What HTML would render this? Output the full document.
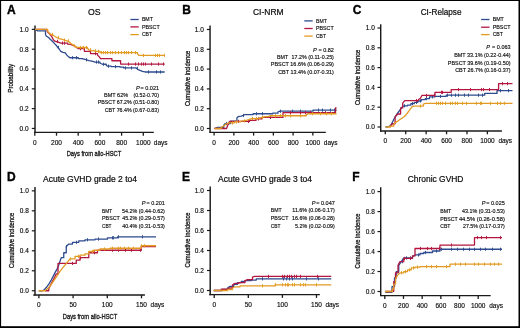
<!DOCTYPE html><html><head><meta charset="utf-8"><style>html,body{margin:0;padding:0;background:#fff}svg{display:block;will-change:transform}text{font-family:"Liberation Sans",sans-serif}</style></head><body><svg width="520" height="328" viewBox="0 0 520 328" font-family="Liberation Sans, sans-serif"><rect x="0" y="0" width="520" height="328" fill="#fff"/><text x="7.0" y="13.5" font-size="12" font-weight="bold" fill="#000" stroke="#000" stroke-width="0.35">A</text><text x="94.3" y="14.9" font-size="9.9" text-anchor="middle" textLength="12.6" lengthAdjust="spacingAndGlyphs" stroke="#1e1e1e" stroke-width="0.22">OS</text><line x1="130.4" y1="19.5" x2="138.7" y2="19.5" stroke="#2d4b8e" stroke-width="1.3"/><text x="141.9" y="21.4" font-size="5.6" textLength="11" lengthAdjust="spacingAndGlyphs" stroke="#1e1e1e" stroke-width="0.15">BMT</text><line x1="130.4" y1="26.9" x2="138.7" y2="26.9" stroke="#b3173f" stroke-width="1.3"/><text x="141.9" y="28.8" font-size="5.6" textLength="17.8" lengthAdjust="spacingAndGlyphs" stroke="#1e1e1e" stroke-width="0.15">PBSCT</text><line x1="130.4" y1="34.6" x2="138.7" y2="34.6" stroke="#e39a22" stroke-width="1.3"/><text x="141.9" y="36.4" font-size="5.6" textLength="10.2" lengthAdjust="spacingAndGlyphs" stroke="#1e1e1e" stroke-width="0.15">CBT</text><line x1="35" y1="25.4" x2="35" y2="133.0" stroke="#1a1a1a" stroke-width="1.45"/><line x1="34.2" y1="132.4" x2="153.8" y2="132.4" stroke="#1a1a1a" stroke-width="1.3"/><line x1="31.8" y1="29.4" x2="35" y2="29.4" stroke="#1a1a1a" stroke-width="1.2"/><text x="28.6" y="31.7" font-size="6.5" text-anchor="end" stroke="#1e1e1e" stroke-width="0.15">1.0</text><line x1="31.8" y1="49.209999999999994" x2="35" y2="49.209999999999994" stroke="#1a1a1a" stroke-width="1.2"/><text x="28.6" y="51.51" font-size="6.5" text-anchor="end" stroke="#1e1e1e" stroke-width="0.15">0.8</text><line x1="31.8" y1="69.01999999999998" x2="35" y2="69.01999999999998" stroke="#1a1a1a" stroke-width="1.2"/><text x="28.6" y="71.32" font-size="6.5" text-anchor="end" stroke="#1e1e1e" stroke-width="0.15">0.6</text><line x1="31.8" y1="88.82999999999998" x2="35" y2="88.82999999999998" stroke="#1a1a1a" stroke-width="1.2"/><text x="28.6" y="91.13" font-size="6.5" text-anchor="end" stroke="#1e1e1e" stroke-width="0.15">0.4</text><line x1="31.8" y1="108.63999999999999" x2="35" y2="108.63999999999999" stroke="#1a1a1a" stroke-width="1.2"/><text x="28.6" y="110.94" font-size="6.5" text-anchor="end" stroke="#1e1e1e" stroke-width="0.15">0.2</text><line x1="31.8" y1="128.45" x2="35" y2="128.45" stroke="#1a1a1a" stroke-width="1.2"/><text x="28.6" y="130.75" font-size="6.5" text-anchor="end" stroke="#1e1e1e" stroke-width="0.15">0.0</text><line x1="34.8" y1="132.4" x2="34.8" y2="135.70000000000002" stroke="#1a1a1a" stroke-width="1.3"/><text x="34.8" y="144.8" font-size="6.5" text-anchor="middle" stroke="#1e1e1e" stroke-width="0.15">0</text><line x1="56.5" y1="132.4" x2="56.5" y2="135.70000000000002" stroke="#1a1a1a" stroke-width="1.3"/><text x="56.5" y="144.8" font-size="6.5" text-anchor="middle" stroke="#1e1e1e" stroke-width="0.15">200</text><line x1="78.19999999999999" y1="132.4" x2="78.19999999999999" y2="135.70000000000002" stroke="#1a1a1a" stroke-width="1.3"/><text x="78.2" y="144.8" font-size="6.5" text-anchor="middle" stroke="#1e1e1e" stroke-width="0.15">400</text><line x1="99.89999999999999" y1="132.4" x2="99.89999999999999" y2="135.70000000000002" stroke="#1a1a1a" stroke-width="1.3"/><text x="99.9" y="144.8" font-size="6.5" text-anchor="middle" stroke="#1e1e1e" stroke-width="0.15">600</text><line x1="121.6" y1="132.4" x2="121.6" y2="135.70000000000002" stroke="#1a1a1a" stroke-width="1.3"/><text x="121.6" y="144.8" font-size="6.5" text-anchor="middle" stroke="#1e1e1e" stroke-width="0.15">800</text><line x1="143.3" y1="132.4" x2="143.3" y2="135.70000000000002" stroke="#1a1a1a" stroke-width="1.3"/><text x="143.3" y="144.8" font-size="6.5" text-anchor="middle" stroke="#1e1e1e" stroke-width="0.15">1000</text><text x="153.8" y="144.8" font-size="6.5" stroke="#1e1e1e" stroke-width="0.15">days</text><text x="93.95" y="155.9" font-size="8.1" text-anchor="middle" textLength="54.5" lengthAdjust="spacingAndGlyphs" stroke="#1e1e1e" stroke-width="0.32">Days from allo-HSCT</text><text x="13.5" y="78.3" font-size="7.9" text-anchor="middle" textLength="28.8" lengthAdjust="spacingAndGlyphs" transform="rotate(-90 13.5 78.3)" stroke="#1e1e1e" stroke-width="0.3">Probability</text><text x="159" y="89.5" font-size="5.6" text-anchor="end" textLength="18.5" lengthAdjust="spacingAndGlyphs" stroke="#1e1e1e" stroke-width="0.15">= 0.021</text><text x="136" y="89.5" font-size="5.6" font-style="italic" stroke="#1e1e1e" stroke-width="0.15">P</text><text x="104" y="96.7" font-size="5.6" textLength="24.2" lengthAdjust="spacingAndGlyphs" stroke="#1e1e1e" stroke-width="0.15">BMT 62%</text><text x="159" y="96.7" font-size="5.6" text-anchor="end" textLength="25.6" lengthAdjust="spacingAndGlyphs" stroke="#1e1e1e" stroke-width="0.15">(0.52-0.70)</text><text x="159" y="104.1" font-size="5.6" text-anchor="end" textLength="61.2" lengthAdjust="spacingAndGlyphs" stroke="#1e1e1e" stroke-width="0.15">PBSCT 67.2% (0.51-0.80)</text><text x="159" y="111.5" font-size="5.6" text-anchor="end" textLength="54.3" lengthAdjust="spacingAndGlyphs" stroke="#1e1e1e" stroke-width="0.15">CBT 76.4% (0.67-0.83)</text><path d="M35 29.4L37.8 30.91H45.5V34.42L46.2 35.93L48.5 37.54L50 39.04L51.6 40.55L53.1 42.06L54.6 43.66L56.1 45.17L57.7 47.48L59.2 48.99L60.7 51.3L63 52.4L65.3 52.81L66.8 55.12L68.4 56.62L69.9 57.73H78.3V58.53H82.9V58.93L85.9 59.74L89 60.54L92 61.24L95 62.05H100V63.25L102.5 64.26H106.25V65.16L107.5 66.17H111.25V66.67H120V67.07H123.75V67.93H136.25V68.28L138.1 69.58L140 70.44L142.5 71.44L145 71.99H164.7" fill="none" stroke="#2d4b8e" stroke-width="1.3" stroke-linejoin="round"/><line x1="58.5" y1="45.879999999999995" x2="58.5" y2="49.08" stroke="#2d4b8e" stroke-width="0.95"/><line x1="72.5" y1="56.129999999999995" x2="72.5" y2="59.33" stroke="#2d4b8e" stroke-width="0.95"/><line x1="76.5" y1="56.129999999999995" x2="76.5" y2="59.33" stroke="#2d4b8e" stroke-width="0.95"/><line x1="86.5" y1="58.14" x2="86.5" y2="61.34" stroke="#2d4b8e" stroke-width="0.95"/><line x1="96.5" y1="60.449999999999996" x2="96.5" y2="63.65" stroke="#2d4b8e" stroke-width="0.95"/><line x1="98.5" y1="60.449999999999996" x2="98.5" y2="63.65" stroke="#2d4b8e" stroke-width="0.95"/><line x1="103.5" y1="62.660000000000004" x2="103.5" y2="65.86" stroke="#2d4b8e" stroke-width="0.95"/><line x1="108.5" y1="64.57000000000001" x2="108.5" y2="67.77" stroke="#2d4b8e" stroke-width="0.95"/><line x1="115.5" y1="65.07000000000001" x2="115.5" y2="68.27" stroke="#2d4b8e" stroke-width="0.95"/><line x1="125.5" y1="66.33000000000001" x2="125.5" y2="69.53" stroke="#2d4b8e" stroke-width="0.95"/><line x1="131.5" y1="66.33000000000001" x2="131.5" y2="69.53" stroke="#2d4b8e" stroke-width="0.95"/><line x1="137.5" y1="66.68" x2="137.5" y2="69.88" stroke="#2d4b8e" stroke-width="0.95"/><line x1="148.5" y1="70.39" x2="148.5" y2="73.58999999999999" stroke="#2d4b8e" stroke-width="0.95"/><line x1="156.5" y1="70.39" x2="156.5" y2="73.58999999999999" stroke="#2d4b8e" stroke-width="0.95"/><line x1="160.5" y1="70.39" x2="160.5" y2="73.58999999999999" stroke="#2d4b8e" stroke-width="0.95"/><path d="M35 29.4H47V30.61L47.7 32.11L49.3 33.62L50.8 35.23L52.3 37.54L53.5 40.05L55.4 41.35L58.4 42.06L60.7 43.16H67.6V44.07L70.6 44.37L72.9 45.47L75.2 46.28L76.7 47.48L78.3 48.69H84.4V51.3H90.5V53.61H97.5V55.12L99.4 57.03L100.6 58.63H111.9V60.74H120.6V64.06H164.7" fill="none" stroke="#b3173f" stroke-width="1.3" stroke-linejoin="round"/><line x1="57.5" y1="39.75" x2="57.5" y2="42.95" stroke="#b3173f" stroke-width="0.95"/><line x1="62.5" y1="41.559999999999995" x2="62.5" y2="44.76" stroke="#b3173f" stroke-width="0.95"/><line x1="64.5" y1="41.559999999999995" x2="64.5" y2="44.76" stroke="#b3173f" stroke-width="0.95"/><line x1="80.5" y1="47.089999999999996" x2="80.5" y2="50.29" stroke="#b3173f" stroke-width="0.95"/><line x1="95.5" y1="52.01" x2="95.5" y2="55.21" stroke="#b3173f" stroke-width="0.95"/><line x1="128.5" y1="62.46" x2="128.5" y2="65.66" stroke="#b3173f" stroke-width="0.95"/><line x1="135.5" y1="62.46" x2="135.5" y2="65.66" stroke="#b3173f" stroke-width="0.95"/><line x1="138.5" y1="62.46" x2="138.5" y2="65.66" stroke="#b3173f" stroke-width="0.95"/><line x1="141.5" y1="62.46" x2="141.5" y2="65.66" stroke="#b3173f" stroke-width="0.95"/><line x1="143.5" y1="62.46" x2="143.5" y2="65.66" stroke="#b3173f" stroke-width="0.95"/><line x1="145.5" y1="62.46" x2="145.5" y2="65.66" stroke="#b3173f" stroke-width="0.95"/><line x1="151.5" y1="62.46" x2="151.5" y2="65.66" stroke="#b3173f" stroke-width="0.95"/><line x1="158.5" y1="62.46" x2="158.5" y2="65.66" stroke="#b3173f" stroke-width="0.95"/><line x1="163.5" y1="62.46" x2="163.5" y2="65.66" stroke="#b3173f" stroke-width="0.95"/><path d="M35 29.4H47.7V31.31L49.3 32.92L50.8 34.42L53.1 35.23L55.4 36.73L56.9 37.54L59.2 38.54L62.2 39.45L64.5 40.05L66.8 40.85L69.1 41.76L70.6 43.16L72.2 44.37L74.5 45.87L76.7 47.48H87.4V48.19L89 49.79L91.3 50.5L94.3 50.8L96.6 51.3H100V52.61H137.5V53.86L138.75 55.42H164.7" fill="none" stroke="#e39a22" stroke-width="1.3" stroke-linejoin="round"/><line x1="52.5" y1="32.82" x2="52.5" y2="36.02" stroke="#e39a22" stroke-width="0.95"/><line x1="58.5" y1="35.94" x2="58.5" y2="39.14" stroke="#e39a22" stroke-width="0.95"/><line x1="64.5" y1="38.449999999999996" x2="64.5" y2="41.65" stroke="#e39a22" stroke-width="0.95"/><line x1="68.5" y1="39.25" x2="68.5" y2="42.45" stroke="#e39a22" stroke-width="0.95"/><line x1="74.5" y1="44.269999999999996" x2="74.5" y2="47.47" stroke="#e39a22" stroke-width="0.95"/><line x1="80.5" y1="45.879999999999995" x2="80.5" y2="49.08" stroke="#e39a22" stroke-width="0.95"/><line x1="83.5" y1="45.879999999999995" x2="83.5" y2="49.08" stroke="#e39a22" stroke-width="0.95"/><line x1="86.5" y1="45.879999999999995" x2="86.5" y2="49.08" stroke="#e39a22" stroke-width="0.95"/><line x1="90.5" y1="48.19" x2="90.5" y2="51.39" stroke="#e39a22" stroke-width="0.95"/><line x1="95.5" y1="49.199999999999996" x2="95.5" y2="52.4" stroke="#e39a22" stroke-width="0.95"/><line x1="98.5" y1="49.699999999999996" x2="98.5" y2="52.9" stroke="#e39a22" stroke-width="0.95"/><line x1="101.5" y1="51.01" x2="101.5" y2="54.21" stroke="#e39a22" stroke-width="0.95"/><line x1="103.5" y1="51.01" x2="103.5" y2="54.21" stroke="#e39a22" stroke-width="0.95"/><line x1="105.5" y1="51.01" x2="105.5" y2="54.21" stroke="#e39a22" stroke-width="0.95"/><line x1="107.5" y1="51.01" x2="107.5" y2="54.21" stroke="#e39a22" stroke-width="0.95"/><line x1="110.5" y1="51.01" x2="110.5" y2="54.21" stroke="#e39a22" stroke-width="0.95"/><line x1="112.5" y1="51.01" x2="112.5" y2="54.21" stroke="#e39a22" stroke-width="0.95"/><line x1="115.5" y1="51.01" x2="115.5" y2="54.21" stroke="#e39a22" stroke-width="0.95"/><line x1="118.5" y1="51.01" x2="118.5" y2="54.21" stroke="#e39a22" stroke-width="0.95"/><line x1="121.5" y1="51.01" x2="121.5" y2="54.21" stroke="#e39a22" stroke-width="0.95"/><line x1="124.5" y1="51.01" x2="124.5" y2="54.21" stroke="#e39a22" stroke-width="0.95"/><line x1="126.5" y1="51.01" x2="126.5" y2="54.21" stroke="#e39a22" stroke-width="0.95"/><line x1="128.5" y1="51.01" x2="128.5" y2="54.21" stroke="#e39a22" stroke-width="0.95"/><line x1="131.5" y1="51.01" x2="131.5" y2="54.21" stroke="#e39a22" stroke-width="0.95"/><line x1="135.5" y1="51.01" x2="135.5" y2="54.21" stroke="#e39a22" stroke-width="0.95"/><line x1="143.5" y1="53.82" x2="143.5" y2="57.02" stroke="#e39a22" stroke-width="0.95"/><line x1="155.5" y1="53.82" x2="155.5" y2="57.02" stroke="#e39a22" stroke-width="0.95"/><line x1="157.5" y1="53.82" x2="157.5" y2="57.02" stroke="#e39a22" stroke-width="0.95"/><line x1="159.5" y1="53.82" x2="159.5" y2="57.02" stroke="#e39a22" stroke-width="0.95"/><line x1="164.5" y1="53.82" x2="164.5" y2="57.02" stroke="#e39a22" stroke-width="0.95"/><text x="182.2" y="13.7" font-size="12" font-weight="bold" fill="#000" stroke="#000" stroke-width="0.35">B</text><text x="268.3" y="14.8" font-size="8.6" text-anchor="middle" textLength="30.6" lengthAdjust="spacingAndGlyphs" stroke="#1e1e1e" stroke-width="0.22">CI-NRM</text><line x1="304.3" y1="20.9" x2="312.7" y2="20.9" stroke="#2d4b8e" stroke-width="1.3"/><text x="316" y="22.7" font-size="5.6" textLength="10.8" lengthAdjust="spacingAndGlyphs" stroke="#1e1e1e" stroke-width="0.15">BMT</text><line x1="304.3" y1="28.5" x2="312.7" y2="28.5" stroke="#b3173f" stroke-width="1.3"/><text x="316" y="30.2" font-size="5.6" textLength="17.7" lengthAdjust="spacingAndGlyphs" stroke="#1e1e1e" stroke-width="0.15">PBSCT</text><line x1="304.3" y1="36.1" x2="312.7" y2="36.1" stroke="#e39a22" stroke-width="1.3"/><text x="316" y="37.6" font-size="5.6" textLength="10" lengthAdjust="spacingAndGlyphs" stroke="#1e1e1e" stroke-width="0.15">CBT</text><line x1="210.05" y1="25.6" x2="210.05" y2="132.9" stroke="#1a1a1a" stroke-width="1.45"/><line x1="209.6" y1="132.3" x2="325.8" y2="132.3" stroke="#1a1a1a" stroke-width="1.3"/><line x1="206.85000000000002" y1="29.5" x2="210.05" y2="29.5" stroke="#1a1a1a" stroke-width="1.2"/><text x="203.8" y="31.8" font-size="6.5" text-anchor="end" stroke="#1e1e1e" stroke-width="0.15">1.0</text><line x1="206.85000000000002" y1="49.3" x2="210.05" y2="49.3" stroke="#1a1a1a" stroke-width="1.2"/><text x="203.8" y="51.6" font-size="6.5" text-anchor="end" stroke="#1e1e1e" stroke-width="0.15">0.8</text><line x1="206.85000000000002" y1="69.1" x2="210.05" y2="69.1" stroke="#1a1a1a" stroke-width="1.2"/><text x="203.8" y="71.4" font-size="6.5" text-anchor="end" stroke="#1e1e1e" stroke-width="0.15">0.6</text><line x1="206.85000000000002" y1="88.9" x2="210.05" y2="88.9" stroke="#1a1a1a" stroke-width="1.2"/><text x="203.8" y="91.2" font-size="6.5" text-anchor="end" stroke="#1e1e1e" stroke-width="0.15">0.4</text><line x1="206.85000000000002" y1="108.7" x2="210.05" y2="108.7" stroke="#1a1a1a" stroke-width="1.2"/><text x="203.8" y="111.0" font-size="6.5" text-anchor="end" stroke="#1e1e1e" stroke-width="0.15">0.2</text><line x1="206.85000000000002" y1="128.5" x2="210.05" y2="128.5" stroke="#1a1a1a" stroke-width="1.2"/><text x="203.8" y="130.8" font-size="6.5" text-anchor="end" stroke="#1e1e1e" stroke-width="0.15">0.0</text><line x1="214.1" y1="132.3" x2="214.1" y2="135.60000000000002" stroke="#1a1a1a" stroke-width="1.3"/><text x="214.1" y="144.70000000000002" font-size="6.5" text-anchor="middle" stroke="#1e1e1e" stroke-width="0.15">0</text><line x1="233.85" y1="132.3" x2="233.85" y2="135.60000000000002" stroke="#1a1a1a" stroke-width="1.3"/><text x="233.85" y="144.70000000000002" font-size="6.5" text-anchor="middle" stroke="#1e1e1e" stroke-width="0.15">200</text><line x1="253.6" y1="132.3" x2="253.6" y2="135.60000000000002" stroke="#1a1a1a" stroke-width="1.3"/><text x="253.6" y="144.70000000000002" font-size="6.5" text-anchor="middle" stroke="#1e1e1e" stroke-width="0.15">400</text><line x1="273.35" y1="132.3" x2="273.35" y2="135.60000000000002" stroke="#1a1a1a" stroke-width="1.3"/><text x="273.35" y="144.70000000000002" font-size="6.5" text-anchor="middle" stroke="#1e1e1e" stroke-width="0.15">600</text><line x1="293.1" y1="132.3" x2="293.1" y2="135.60000000000002" stroke="#1a1a1a" stroke-width="1.3"/><text x="293.1" y="144.70000000000002" font-size="6.5" text-anchor="middle" stroke="#1e1e1e" stroke-width="0.15">800</text><line x1="312.85" y1="132.3" x2="312.85" y2="135.60000000000002" stroke="#1a1a1a" stroke-width="1.3"/><text x="312.85" y="144.70000000000002" font-size="6.5" text-anchor="middle" stroke="#1e1e1e" stroke-width="0.15">1000</text><text x="323.8" y="144.70000000000002" font-size="6.5" stroke="#1e1e1e" stroke-width="0.15">days</text><text x="190.2" y="78.4" font-size="7.4" text-anchor="middle" textLength="55.4" lengthAdjust="spacingAndGlyphs" transform="rotate(-90 190.2 78.4)" stroke="#1e1e1e" stroke-width="0.3">Cumulative incidence</text><text x="333.9" y="51.6" font-size="5.6" text-anchor="end" textLength="15.5" lengthAdjust="spacingAndGlyphs" stroke="#1e1e1e" stroke-width="0.15">= 0.82</text><text x="313.1" y="51.6" font-size="5.6" font-style="italic" stroke="#1e1e1e" stroke-width="0.15">P</text><text x="277.1" y="59" font-size="5.6" textLength="11.1" lengthAdjust="spacingAndGlyphs" stroke="#1e1e1e" stroke-width="0.15">BMT</text><text x="333.9" y="59" font-size="5.6" text-anchor="end" textLength="42.3" lengthAdjust="spacingAndGlyphs" stroke="#1e1e1e" stroke-width="0.15">17.2% (0.11-0.25)</text><text x="333.9" y="66.4" font-size="5.6" text-anchor="end" textLength="63.1" lengthAdjust="spacingAndGlyphs" stroke="#1e1e1e" stroke-width="0.15">PBSCT 16.6% (0.06-0.29)</text><text x="333.9" y="74.1" font-size="5.6" text-anchor="end" textLength="55.7" lengthAdjust="spacingAndGlyphs" stroke="#1e1e1e" stroke-width="0.15">CBT 13.4% (0.07-0.31)</text><path d="M214.4 128.5L217.5 127.39H223.75V125.48L225 123.58H230.6V121.06H236.9V117.95L238.1 116.69L241.25 116.04L243.1 115.43L245 114.53H253.1V113.73H272.7V113.22H278V111.82L280.1 111.21H313V110.11H336.6" fill="none" stroke="#2d4b8e" stroke-width="1.3" stroke-linejoin="round"/><line x1="226.5" y1="121.98" x2="226.5" y2="125.17999999999999" stroke="#2d4b8e" stroke-width="0.95"/><line x1="243.5" y1="113.83000000000001" x2="243.5" y2="117.03" stroke="#2d4b8e" stroke-width="0.95"/><line x1="256.5" y1="112.13000000000001" x2="256.5" y2="115.33" stroke="#2d4b8e" stroke-width="0.95"/><line x1="262.5" y1="112.13000000000001" x2="262.5" y2="115.33" stroke="#2d4b8e" stroke-width="0.95"/><line x1="280.5" y1="109.61" x2="280.5" y2="112.80999999999999" stroke="#2d4b8e" stroke-width="0.95"/><line x1="292.5" y1="109.61" x2="292.5" y2="112.80999999999999" stroke="#2d4b8e" stroke-width="0.95"/><line x1="300.5" y1="109.61" x2="300.5" y2="112.80999999999999" stroke="#2d4b8e" stroke-width="0.95"/><line x1="318.5" y1="108.51" x2="318.5" y2="111.71" stroke="#2d4b8e" stroke-width="0.95"/><line x1="322.5" y1="108.51" x2="322.5" y2="111.71" stroke="#2d4b8e" stroke-width="0.95"/><line x1="330.5" y1="108.51" x2="330.5" y2="111.71" stroke="#2d4b8e" stroke-width="0.95"/><line x1="334.5" y1="108.51" x2="334.5" y2="111.71" stroke="#2d4b8e" stroke-width="0.95"/><path d="M214.4 128.5H226.5V128.5L227.5 125.99L228.5 123.47L229.5 121.46H249.5V120.46H256V118.95H262V117.44H283V112.62H335.5V107.9H336.6" fill="none" stroke="#b3173f" stroke-width="1.3" stroke-linejoin="round"/><line x1="238.5" y1="119.86" x2="238.5" y2="123.05999999999999" stroke="#b3173f" stroke-width="0.95"/><line x1="248.5" y1="119.86" x2="248.5" y2="123.05999999999999" stroke="#b3173f" stroke-width="0.95"/><line x1="258.5" y1="117.35000000000001" x2="258.5" y2="120.55" stroke="#b3173f" stroke-width="0.95"/><line x1="270.5" y1="115.84" x2="270.5" y2="119.03999999999999" stroke="#b3173f" stroke-width="0.95"/><line x1="290.5" y1="111.02000000000001" x2="290.5" y2="114.22" stroke="#b3173f" stroke-width="0.95"/><line x1="300.5" y1="111.02000000000001" x2="300.5" y2="114.22" stroke="#b3173f" stroke-width="0.95"/><line x1="305.5" y1="111.02000000000001" x2="305.5" y2="114.22" stroke="#b3173f" stroke-width="0.95"/><line x1="310.5" y1="111.02000000000001" x2="310.5" y2="114.22" stroke="#b3173f" stroke-width="0.95"/><line x1="325.5" y1="111.02000000000001" x2="325.5" y2="114.22" stroke="#b3173f" stroke-width="0.95"/><path d="M214.4 128.5H221.25V127.39L224.4 125.48L225.6 124.23L226.9 123.58L228.75 122.97H234.4V121.97H240.6V121.46L243.1 120.86L246.25 120.46L248.1 119.86L250 119.2L251.9 118.55H259.4V117.95L262.5 117.34L265 116.69H268.75V116.04L271.25 115.74H306.3V114.63L308.4 113.73H336.6" fill="none" stroke="#e39a22" stroke-width="1.3" stroke-linejoin="round"/><line x1="232.5" y1="121.37" x2="232.5" y2="124.57" stroke="#e39a22" stroke-width="0.95"/><line x1="236.5" y1="120.37" x2="236.5" y2="123.57" stroke="#e39a22" stroke-width="0.95"/><line x1="244.5" y1="119.26" x2="244.5" y2="122.46" stroke="#e39a22" stroke-width="0.95"/><line x1="252.5" y1="116.95" x2="252.5" y2="120.14999999999999" stroke="#e39a22" stroke-width="0.95"/><line x1="256.5" y1="116.95" x2="256.5" y2="120.14999999999999" stroke="#e39a22" stroke-width="0.95"/><line x1="262.5" y1="115.74000000000001" x2="262.5" y2="118.94" stroke="#e39a22" stroke-width="0.95"/><line x1="275.5" y1="114.14" x2="275.5" y2="117.33999999999999" stroke="#e39a22" stroke-width="0.95"/><line x1="280.5" y1="114.14" x2="280.5" y2="117.33999999999999" stroke="#e39a22" stroke-width="0.95"/><line x1="285.5" y1="114.14" x2="285.5" y2="117.33999999999999" stroke="#e39a22" stroke-width="0.95"/><line x1="290.5" y1="114.14" x2="290.5" y2="117.33999999999999" stroke="#e39a22" stroke-width="0.95"/><line x1="300.5" y1="114.14" x2="300.5" y2="117.33999999999999" stroke="#e39a22" stroke-width="0.95"/><line x1="312.5" y1="112.13000000000001" x2="312.5" y2="115.33" stroke="#e39a22" stroke-width="0.95"/><line x1="320.5" y1="112.13000000000001" x2="320.5" y2="115.33" stroke="#e39a22" stroke-width="0.95"/><line x1="326.5" y1="112.13000000000001" x2="326.5" y2="115.33" stroke="#e39a22" stroke-width="0.95"/><line x1="331.5" y1="112.13000000000001" x2="331.5" y2="115.33" stroke="#e39a22" stroke-width="0.95"/><text x="352.7" y="13.7" font-size="12" font-weight="bold" fill="#000" stroke="#000" stroke-width="0.35">C</text><text x="441.1" y="14.5" font-size="8.5" text-anchor="middle" textLength="40.8" lengthAdjust="spacingAndGlyphs" stroke="#1e1e1e" stroke-width="0.22">CI-Relapse</text><line x1="481.1" y1="19.5" x2="489.5" y2="19.5" stroke="#2d4b8e" stroke-width="1.3"/><text x="492.7" y="21.1" font-size="5.6" textLength="11.1" lengthAdjust="spacingAndGlyphs" stroke="#1e1e1e" stroke-width="0.15">BMT</text><line x1="481.1" y1="27.2" x2="489.5" y2="27.2" stroke="#b3173f" stroke-width="1.3"/><text x="492.7" y="28.6" font-size="5.6" textLength="17.9" lengthAdjust="spacingAndGlyphs" stroke="#1e1e1e" stroke-width="0.15">PBSCT</text><line x1="481.1" y1="34.6" x2="489.5" y2="34.6" stroke="#e39a22" stroke-width="1.3"/><text x="492.7" y="36" font-size="5.6" textLength="10.2" lengthAdjust="spacingAndGlyphs" stroke="#1e1e1e" stroke-width="0.15">CBT</text><line x1="380.7" y1="24.3" x2="380.7" y2="131.6" stroke="#1a1a1a" stroke-width="1.45"/><line x1="380" y1="131" x2="501.9" y2="131" stroke="#1a1a1a" stroke-width="1.3"/><line x1="377.5" y1="28.0" x2="380.7" y2="28.0" stroke="#1a1a1a" stroke-width="1.2"/><text x="374.8" y="30.3" font-size="6.5" text-anchor="end" stroke="#1e1e1e" stroke-width="0.15">1.0</text><line x1="377.5" y1="47.8" x2="380.7" y2="47.8" stroke="#1a1a1a" stroke-width="1.2"/><text x="374.8" y="50.1" font-size="6.5" text-anchor="end" stroke="#1e1e1e" stroke-width="0.15">0.8</text><line x1="377.5" y1="67.6" x2="380.7" y2="67.6" stroke="#1a1a1a" stroke-width="1.2"/><text x="374.8" y="69.9" font-size="6.5" text-anchor="end" stroke="#1e1e1e" stroke-width="0.15">0.6</text><line x1="377.5" y1="87.4" x2="380.7" y2="87.4" stroke="#1a1a1a" stroke-width="1.2"/><text x="374.8" y="89.7" font-size="6.5" text-anchor="end" stroke="#1e1e1e" stroke-width="0.15">0.4</text><line x1="377.5" y1="107.2" x2="380.7" y2="107.2" stroke="#1a1a1a" stroke-width="1.2"/><text x="374.8" y="109.5" font-size="6.5" text-anchor="end" stroke="#1e1e1e" stroke-width="0.15">0.2</text><line x1="377.5" y1="127.0" x2="380.7" y2="127.0" stroke="#1a1a1a" stroke-width="1.2"/><text x="374.8" y="129.3" font-size="6.5" text-anchor="end" stroke="#1e1e1e" stroke-width="0.15">0.0</text><line x1="385.3" y1="131" x2="385.3" y2="134.3" stroke="#1a1a1a" stroke-width="1.3"/><text x="385.3" y="143.4" font-size="6.5" text-anchor="middle" stroke="#1e1e1e" stroke-width="0.15">0</text><line x1="405.72" y1="131" x2="405.72" y2="134.3" stroke="#1a1a1a" stroke-width="1.3"/><text x="405.72" y="143.4" font-size="6.5" text-anchor="middle" stroke="#1e1e1e" stroke-width="0.15">200</text><line x1="426.14" y1="131" x2="426.14" y2="134.3" stroke="#1a1a1a" stroke-width="1.3"/><text x="426.14" y="143.4" font-size="6.5" text-anchor="middle" stroke="#1e1e1e" stroke-width="0.15">400</text><line x1="446.56" y1="131" x2="446.56" y2="134.3" stroke="#1a1a1a" stroke-width="1.3"/><text x="446.56" y="143.4" font-size="6.5" text-anchor="middle" stroke="#1e1e1e" stroke-width="0.15">600</text><line x1="466.98" y1="131" x2="466.98" y2="134.3" stroke="#1a1a1a" stroke-width="1.3"/><text x="466.98" y="143.4" font-size="6.5" text-anchor="middle" stroke="#1e1e1e" stroke-width="0.15">800</text><line x1="487.40000000000003" y1="131" x2="487.40000000000003" y2="134.3" stroke="#1a1a1a" stroke-width="1.3"/><text x="487.4" y="143.4" font-size="6.5" text-anchor="middle" stroke="#1e1e1e" stroke-width="0.15">1000</text><text x="498.4" y="143.4" font-size="6.5" stroke="#1e1e1e" stroke-width="0.15">days</text><text x="359.8" y="77.4" font-size="7.4" text-anchor="middle" textLength="55.4" lengthAdjust="spacingAndGlyphs" transform="rotate(-90 359.8 77.4)" stroke="#1e1e1e" stroke-width="0.3">Cumulative incidence</text><text x="510.6" y="49.3" font-size="5.6" text-anchor="end" textLength="18.5" lengthAdjust="spacingAndGlyphs" stroke="#1e1e1e" stroke-width="0.15">= 0.063</text><text x="486.3" y="49.3" font-size="5.6" font-style="italic" stroke="#1e1e1e" stroke-width="0.15">P</text><text x="510.6" y="56.9" font-size="5.6" text-anchor="end" textLength="56.4" lengthAdjust="spacingAndGlyphs" stroke="#1e1e1e" stroke-width="0.15">BMT 33.1% (0.22-0.44)</text><text x="510.6" y="64.5" font-size="5.6" text-anchor="end" textLength="62.8" lengthAdjust="spacingAndGlyphs" stroke="#1e1e1e" stroke-width="0.15">PBSCT 39.6% (0.19-0.50)</text><text x="510.6" y="72.2" font-size="5.6" text-anchor="end" textLength="55.4" lengthAdjust="spacingAndGlyphs" stroke="#1e1e1e" stroke-width="0.15">CBT 26.7% (0.16-0.37)</text><path d="M385.5 127.0L387.6 127.0L390.3 125.75L392.4 122.34L394.4 118.23L396.5 114.72L398.5 112.01L400.6 109.21L402 107.2L404 105.8H407.5V105.09H410.9V103.69H414.3V102.39H417.8V100.98H421.2V99.58H425.3V98.68H429.5V96.87H435V96.37H446.3V95.17H484.7V93.47H497V90.66H512.5" fill="none" stroke="#2d4b8e" stroke-width="1.3" stroke-linejoin="round"/><line x1="400.5" y1="110.41000000000001" x2="400.5" y2="113.61" stroke="#2d4b8e" stroke-width="0.95"/><line x1="404.5" y1="104.2" x2="404.5" y2="107.39999999999999" stroke="#2d4b8e" stroke-width="0.95"/><line x1="412.5" y1="102.09" x2="412.5" y2="105.28999999999999" stroke="#2d4b8e" stroke-width="0.95"/><line x1="416.5" y1="100.79" x2="416.5" y2="103.99" stroke="#2d4b8e" stroke-width="0.95"/><line x1="420.5" y1="99.38000000000001" x2="420.5" y2="102.58" stroke="#2d4b8e" stroke-width="0.95"/><line x1="426.5" y1="97.08000000000001" x2="426.5" y2="100.28" stroke="#2d4b8e" stroke-width="0.95"/><line x1="432.5" y1="95.27000000000001" x2="432.5" y2="98.47" stroke="#2d4b8e" stroke-width="0.95"/><line x1="440.5" y1="94.77000000000001" x2="440.5" y2="97.97" stroke="#2d4b8e" stroke-width="0.95"/><line x1="447.5" y1="93.57000000000001" x2="447.5" y2="96.77" stroke="#2d4b8e" stroke-width="0.95"/><line x1="451.5" y1="93.57000000000001" x2="451.5" y2="96.77" stroke="#2d4b8e" stroke-width="0.95"/><line x1="455.5" y1="93.57000000000001" x2="455.5" y2="96.77" stroke="#2d4b8e" stroke-width="0.95"/><line x1="458.5" y1="93.57000000000001" x2="458.5" y2="96.77" stroke="#2d4b8e" stroke-width="0.95"/><line x1="464.5" y1="93.57000000000001" x2="464.5" y2="96.77" stroke="#2d4b8e" stroke-width="0.95"/><line x1="468.5" y1="93.57000000000001" x2="468.5" y2="96.77" stroke="#2d4b8e" stroke-width="0.95"/><line x1="478.5" y1="93.57000000000001" x2="478.5" y2="96.77" stroke="#2d4b8e" stroke-width="0.95"/><line x1="482.5" y1="93.57000000000001" x2="482.5" y2="96.77" stroke="#2d4b8e" stroke-width="0.95"/><line x1="500.5" y1="89.06" x2="500.5" y2="92.25999999999999" stroke="#2d4b8e" stroke-width="0.95"/><line x1="508.5" y1="89.06" x2="508.5" y2="92.25999999999999" stroke="#2d4b8e" stroke-width="0.95"/><path d="M389.6 127.0L392.4 123.74H395.1V116.82L397.9 114.02H400.6V107.9H402.7V103.09L404.7 100.58H418.5V99.58L420.5 98.18L421.9 95.47H435V92.36H451.2V89.56H498.6V83.64H512.5" fill="none" stroke="#b3173f" stroke-width="1.3" stroke-linejoin="round"/><line x1="416.5" y1="98.98" x2="416.5" y2="102.17999999999999" stroke="#b3173f" stroke-width="0.95"/><line x1="426.5" y1="93.87" x2="426.5" y2="97.07" stroke="#b3173f" stroke-width="0.95"/><line x1="434.5" y1="93.87" x2="434.5" y2="97.07" stroke="#b3173f" stroke-width="0.95"/><line x1="441.5" y1="90.76" x2="441.5" y2="93.96" stroke="#b3173f" stroke-width="0.95"/><line x1="442.5" y1="90.76" x2="442.5" y2="93.96" stroke="#b3173f" stroke-width="0.95"/><line x1="458.5" y1="87.96000000000001" x2="458.5" y2="91.16" stroke="#b3173f" stroke-width="0.95"/><line x1="470.5" y1="87.96000000000001" x2="470.5" y2="91.16" stroke="#b3173f" stroke-width="0.95"/><line x1="481.5" y1="87.96000000000001" x2="481.5" y2="91.16" stroke="#b3173f" stroke-width="0.95"/><line x1="483.5" y1="87.96000000000001" x2="483.5" y2="91.16" stroke="#b3173f" stroke-width="0.95"/><line x1="489.5" y1="87.96000000000001" x2="489.5" y2="91.16" stroke="#b3173f" stroke-width="0.95"/><line x1="502.5" y1="82.04" x2="502.5" y2="85.24" stroke="#b3173f" stroke-width="0.95"/><line x1="507.5" y1="82.04" x2="507.5" y2="85.24" stroke="#b3173f" stroke-width="0.95"/><path d="M385.5 127.0H390.3V126.15H393.7V124.34L395.8 122.34L397.9 120.93L399.9 119.53L402 118.23L404 116.82L406.1 114.72L408.2 112.01L410.2 109.21L412.3 106.5L413.7 106.1H423.3V104.39L425.3 103.29H512.5" fill="none" stroke="#e39a22" stroke-width="1.3" stroke-linejoin="round"/><line x1="420.5" y1="104.5" x2="420.5" y2="107.69999999999999" stroke="#e39a22" stroke-width="0.95"/><line x1="436.5" y1="101.69000000000001" x2="436.5" y2="104.89" stroke="#e39a22" stroke-width="0.95"/><line x1="438.5" y1="101.69000000000001" x2="438.5" y2="104.89" stroke="#e39a22" stroke-width="0.95"/><line x1="440.5" y1="101.69000000000001" x2="440.5" y2="104.89" stroke="#e39a22" stroke-width="0.95"/><line x1="442.5" y1="101.69000000000001" x2="442.5" y2="104.89" stroke="#e39a22" stroke-width="0.95"/><line x1="445.5" y1="101.69000000000001" x2="445.5" y2="104.89" stroke="#e39a22" stroke-width="0.95"/><line x1="450.5" y1="101.69000000000001" x2="450.5" y2="104.89" stroke="#e39a22" stroke-width="0.95"/><line x1="452.5" y1="101.69000000000001" x2="452.5" y2="104.89" stroke="#e39a22" stroke-width="0.95"/><line x1="455.5" y1="101.69000000000001" x2="455.5" y2="104.89" stroke="#e39a22" stroke-width="0.95"/><line x1="457.5" y1="101.69000000000001" x2="457.5" y2="104.89" stroke="#e39a22" stroke-width="0.95"/><line x1="462.5" y1="101.69000000000001" x2="462.5" y2="104.89" stroke="#e39a22" stroke-width="0.95"/><line x1="466.5" y1="101.69000000000001" x2="466.5" y2="104.89" stroke="#e39a22" stroke-width="0.95"/><line x1="476.5" y1="101.69000000000001" x2="476.5" y2="104.89" stroke="#e39a22" stroke-width="0.95"/><line x1="480.5" y1="101.69000000000001" x2="480.5" y2="104.89" stroke="#e39a22" stroke-width="0.95"/><line x1="481.5" y1="101.69000000000001" x2="481.5" y2="104.89" stroke="#e39a22" stroke-width="0.95"/><line x1="490.5" y1="101.69000000000001" x2="490.5" y2="104.89" stroke="#e39a22" stroke-width="0.95"/><line x1="497.5" y1="101.69000000000001" x2="497.5" y2="104.89" stroke="#e39a22" stroke-width="0.95"/><line x1="500.5" y1="101.69000000000001" x2="500.5" y2="104.89" stroke="#e39a22" stroke-width="0.95"/><line x1="504.5" y1="101.69000000000001" x2="504.5" y2="104.89" stroke="#e39a22" stroke-width="0.95"/><text x="6.9" y="180.5" font-size="12" font-weight="bold" fill="#000" stroke="#000" stroke-width="0.35">D</text><text x="90" y="181.6" font-size="8.5" text-anchor="middle" textLength="94" lengthAdjust="spacingAndGlyphs" stroke="#1e1e1e" stroke-width="0.22">Acute GVHD grade 2 to4</text><line x1="35" y1="187" x2="35" y2="295.6" stroke="#1a1a1a" stroke-width="1.45"/><line x1="33.3" y1="295" x2="144.9" y2="295" stroke="#1a1a1a" stroke-width="1.3"/><line x1="31.8" y1="190.85" x2="35" y2="190.85" stroke="#1a1a1a" stroke-width="1.2"/><text x="28.8" y="193.15" font-size="6.5" text-anchor="end" stroke="#1e1e1e" stroke-width="0.15">1.0</text><line x1="31.8" y1="210.82999999999998" x2="35" y2="210.82999999999998" stroke="#1a1a1a" stroke-width="1.2"/><text x="28.8" y="213.13" font-size="6.5" text-anchor="end" stroke="#1e1e1e" stroke-width="0.15">0.8</text><line x1="31.8" y1="230.81" x2="35" y2="230.81" stroke="#1a1a1a" stroke-width="1.2"/><text x="28.8" y="233.11" font-size="6.5" text-anchor="end" stroke="#1e1e1e" stroke-width="0.15">0.6</text><line x1="31.8" y1="250.79000000000002" x2="35" y2="250.79000000000002" stroke="#1a1a1a" stroke-width="1.2"/><text x="28.8" y="253.09" font-size="6.5" text-anchor="end" stroke="#1e1e1e" stroke-width="0.15">0.4</text><line x1="31.8" y1="270.77" x2="35" y2="270.77" stroke="#1a1a1a" stroke-width="1.2"/><text x="28.8" y="273.07" font-size="6.5" text-anchor="end" stroke="#1e1e1e" stroke-width="0.15">0.2</text><line x1="31.8" y1="290.75" x2="35" y2="290.75" stroke="#1a1a1a" stroke-width="1.2"/><text x="28.8" y="293.05" font-size="6.5" text-anchor="end" stroke="#1e1e1e" stroke-width="0.15">0.0</text><line x1="38.9" y1="295" x2="38.9" y2="298.3" stroke="#1a1a1a" stroke-width="1.3"/><text x="38.9" y="307.09999999999997" font-size="6.5" text-anchor="middle" stroke="#1e1e1e" stroke-width="0.15">0</text><line x1="73.1" y1="295" x2="73.1" y2="298.3" stroke="#1a1a1a" stroke-width="1.3"/><text x="73.1" y="307.09999999999997" font-size="6.5" text-anchor="middle" stroke="#1e1e1e" stroke-width="0.15">50</text><line x1="107.30000000000001" y1="295" x2="107.30000000000001" y2="298.3" stroke="#1a1a1a" stroke-width="1.3"/><text x="107.3" y="307.09999999999997" font-size="6.5" text-anchor="middle" stroke="#1e1e1e" stroke-width="0.15">100</text><line x1="141.5" y1="295" x2="141.5" y2="298.3" stroke="#1a1a1a" stroke-width="1.3"/><text x="141.5" y="307.09999999999997" font-size="6.5" text-anchor="middle" stroke="#1e1e1e" stroke-width="0.15">150</text><text x="150.6" y="307.09999999999997" font-size="6.5" stroke="#1e1e1e" stroke-width="0.15">days</text><text x="90" y="318.5" font-size="8.1" text-anchor="middle" textLength="54.5" lengthAdjust="spacingAndGlyphs" stroke="#1e1e1e" stroke-width="0.32">Days from allo-HSCT</text><text x="14.2" y="240.4" font-size="7.4" text-anchor="middle" textLength="55.2" lengthAdjust="spacingAndGlyphs" transform="rotate(-90 14.2 240.4)" stroke="#1e1e1e" stroke-width="0.3">Cumulative incidence</text><text x="164.9" y="204.8" font-size="5.6" text-anchor="end" textLength="18.5" lengthAdjust="spacingAndGlyphs" stroke="#1e1e1e" stroke-width="0.15">= 0.201</text><text x="141.7" y="204.8" font-size="5.6" font-style="italic" stroke="#1e1e1e" stroke-width="0.15">P</text><text x="102" y="212.6" font-size="5.6" textLength="10.1" lengthAdjust="spacingAndGlyphs" stroke="#1e1e1e" stroke-width="0.15">BMT</text><text x="164.9" y="212.6" font-size="5.6" text-anchor="end" textLength="42.900000000000006" lengthAdjust="spacingAndGlyphs" stroke="#1e1e1e" stroke-width="0.15">54.2% (0.44-0.62)</text><text x="102" y="220.3" font-size="5.6" textLength="17.9" lengthAdjust="spacingAndGlyphs" stroke="#1e1e1e" stroke-width="0.15">PBSCT</text><text x="164.9" y="220.3" font-size="5.6" text-anchor="end" textLength="42.7" lengthAdjust="spacingAndGlyphs" stroke="#1e1e1e" stroke-width="0.15">45.2% (0.29-0.57)</text><text x="102" y="227.8" font-size="5.6" textLength="9.5" lengthAdjust="spacingAndGlyphs" stroke="#1e1e1e" stroke-width="0.15">CBT</text><text x="164.9" y="227.8" font-size="5.6" text-anchor="end" textLength="42.7" lengthAdjust="spacingAndGlyphs" stroke="#1e1e1e" stroke-width="0.15">40.4% (0.31-0.53)</text><path d="M38.75 290.75H42.5V290.75L44.5 289.51L46.25 287.52L48.75 284.04L51.25 280.06L53 276.59L55 272.61L57 269.13L58.75 265.15L60 261.18L61.25 257.7H63.75V252.73H66.25V246.52L68.75 244.03H72.5V242.29H78.75V240.8H85V239.81H95V239.06H107.5V237.82H117.5V236.82H156" fill="none" stroke="#2d4b8e" stroke-width="1.3" stroke-linejoin="round"/><line x1="66.5" y1="244.92000000000002" x2="66.5" y2="248.12" stroke="#2d4b8e" stroke-width="0.95"/><line x1="76.5" y1="240.69" x2="76.5" y2="243.89" stroke="#2d4b8e" stroke-width="0.95"/><line x1="87.5" y1="238.21" x2="87.5" y2="241.41" stroke="#2d4b8e" stroke-width="0.95"/><line x1="98.5" y1="237.46" x2="98.5" y2="240.66" stroke="#2d4b8e" stroke-width="0.95"/><line x1="112.5" y1="236.22" x2="112.5" y2="239.42" stroke="#2d4b8e" stroke-width="0.95"/><line x1="113.5" y1="236.22" x2="113.5" y2="239.42" stroke="#2d4b8e" stroke-width="0.95"/><line x1="118.5" y1="235.22" x2="118.5" y2="238.42" stroke="#2d4b8e" stroke-width="0.95"/><line x1="142.5" y1="235.22" x2="142.5" y2="238.42" stroke="#2d4b8e" stroke-width="0.95"/><path d="M45 290.75H48.75V288.76L50.5 285.03L52.5 281.31L54.5 277.58L56.25 273.85H58V263.41H76.25V260.18H80V257.7H88.75V252.73H97.5V250.24H141.25V246.52H156" fill="none" stroke="#b3173f" stroke-width="1.3" stroke-linejoin="round"/><line x1="72.5" y1="261.81" x2="72.5" y2="265.01000000000005" stroke="#b3173f" stroke-width="0.95"/><line x1="80.5" y1="256.09999999999997" x2="80.5" y2="259.3" stroke="#b3173f" stroke-width="0.95"/><line x1="94.5" y1="251.13" x2="94.5" y2="254.32999999999998" stroke="#b3173f" stroke-width="0.95"/><line x1="112.5" y1="248.64000000000001" x2="112.5" y2="251.84" stroke="#b3173f" stroke-width="0.95"/><line x1="118.5" y1="248.64000000000001" x2="118.5" y2="251.84" stroke="#b3173f" stroke-width="0.95"/><line x1="125.5" y1="248.64000000000001" x2="125.5" y2="251.84" stroke="#b3173f" stroke-width="0.95"/><line x1="131.5" y1="248.64000000000001" x2="131.5" y2="251.84" stroke="#b3173f" stroke-width="0.95"/><line x1="140.5" y1="248.64000000000001" x2="140.5" y2="251.84" stroke="#b3173f" stroke-width="0.95"/><path d="M38.75 290.75H45V290.75L47 289.01L50 286.28L52.5 282.55L55 278.82L57.5 275.09L60 271.37L62.5 268.14L65 265.15L67.5 262.17L70 258.94H75V256.46H80V255.21H85V253.97H88.75V251.49H93.75V250.24H100V249.0H110V248.26H141.25V245.77H156" fill="none" stroke="#e39a22" stroke-width="1.3" stroke-linejoin="round"/><line x1="70.5" y1="257.34" x2="70.5" y2="260.54" stroke="#e39a22" stroke-width="0.95"/><line x1="78.5" y1="254.85999999999999" x2="78.5" y2="258.06" stroke="#e39a22" stroke-width="0.95"/><line x1="92.5" y1="249.89000000000001" x2="92.5" y2="253.09" stroke="#e39a22" stroke-width="0.95"/><line x1="104.5" y1="247.4" x2="104.5" y2="250.6" stroke="#e39a22" stroke-width="0.95"/><line x1="112.5" y1="246.66" x2="112.5" y2="249.85999999999999" stroke="#e39a22" stroke-width="0.95"/><line x1="118.5" y1="246.66" x2="118.5" y2="249.85999999999999" stroke="#e39a22" stroke-width="0.95"/><line x1="120.5" y1="246.66" x2="120.5" y2="249.85999999999999" stroke="#e39a22" stroke-width="0.95"/><line x1="124.5" y1="246.66" x2="124.5" y2="249.85999999999999" stroke="#e39a22" stroke-width="0.95"/><line x1="128.5" y1="246.66" x2="128.5" y2="249.85999999999999" stroke="#e39a22" stroke-width="0.95"/><line x1="133.5" y1="246.66" x2="133.5" y2="249.85999999999999" stroke="#e39a22" stroke-width="0.95"/><line x1="141.5" y1="244.17000000000002" x2="141.5" y2="247.37" stroke="#e39a22" stroke-width="0.95"/><line x1="144.5" y1="244.17000000000002" x2="144.5" y2="247.37" stroke="#e39a22" stroke-width="0.95"/><text x="182.1" y="180.5" font-size="12" font-weight="bold" fill="#000" stroke="#000" stroke-width="0.35">E</text><text x="265" y="181.6" font-size="8.5" text-anchor="middle" textLength="94" lengthAdjust="spacingAndGlyphs" stroke="#1e1e1e" stroke-width="0.22">Acute GVHD grade 3 to4</text><line x1="210.2" y1="186.5" x2="210.2" y2="295.20000000000005" stroke="#1a1a1a" stroke-width="1.45"/><line x1="209.2" y1="294.6" x2="319.9" y2="294.6" stroke="#1a1a1a" stroke-width="1.3"/><line x1="207.0" y1="190.5" x2="210.2" y2="190.5" stroke="#1a1a1a" stroke-width="1.2"/><text x="203.8" y="192.8" font-size="6.5" text-anchor="end" stroke="#1e1e1e" stroke-width="0.15">1.0</text><line x1="207.0" y1="210.5" x2="210.2" y2="210.5" stroke="#1a1a1a" stroke-width="1.2"/><text x="203.8" y="212.8" font-size="6.5" text-anchor="end" stroke="#1e1e1e" stroke-width="0.15">0.8</text><line x1="207.0" y1="230.5" x2="210.2" y2="230.5" stroke="#1a1a1a" stroke-width="1.2"/><text x="203.8" y="232.8" font-size="6.5" text-anchor="end" stroke="#1e1e1e" stroke-width="0.15">0.6</text><line x1="207.0" y1="250.5" x2="210.2" y2="250.5" stroke="#1a1a1a" stroke-width="1.2"/><text x="203.8" y="252.8" font-size="6.5" text-anchor="end" stroke="#1e1e1e" stroke-width="0.15">0.4</text><line x1="207.0" y1="270.5" x2="210.2" y2="270.5" stroke="#1a1a1a" stroke-width="1.2"/><text x="203.8" y="272.8" font-size="6.5" text-anchor="end" stroke="#1e1e1e" stroke-width="0.15">0.2</text><line x1="207.0" y1="290.5" x2="210.2" y2="290.5" stroke="#1a1a1a" stroke-width="1.2"/><text x="203.8" y="292.8" font-size="6.5" text-anchor="end" stroke="#1e1e1e" stroke-width="0.15">0.0</text><line x1="214.2" y1="294.6" x2="214.2" y2="297.90000000000003" stroke="#1a1a1a" stroke-width="1.3"/><text x="214.2" y="307.09999999999997" font-size="6.5" text-anchor="middle" stroke="#1e1e1e" stroke-width="0.15">0</text><line x1="248.29999999999998" y1="294.6" x2="248.29999999999998" y2="297.90000000000003" stroke="#1a1a1a" stroke-width="1.3"/><text x="248.3" y="307.09999999999997" font-size="6.5" text-anchor="middle" stroke="#1e1e1e" stroke-width="0.15">50</text><line x1="282.4" y1="294.6" x2="282.4" y2="297.90000000000003" stroke="#1a1a1a" stroke-width="1.3"/><text x="282.4" y="307.09999999999997" font-size="6.5" text-anchor="middle" stroke="#1e1e1e" stroke-width="0.15">100</text><line x1="316.5" y1="294.6" x2="316.5" y2="297.90000000000003" stroke="#1a1a1a" stroke-width="1.3"/><text x="316.5" y="307.09999999999997" font-size="6.5" text-anchor="middle" stroke="#1e1e1e" stroke-width="0.15">150</text><text x="325.4" y="307.09999999999997" font-size="6.5" stroke="#1e1e1e" stroke-width="0.15">days</text><text x="190" y="240" font-size="7.4" text-anchor="middle" textLength="55.2" lengthAdjust="spacingAndGlyphs" transform="rotate(-90 190 240)" stroke="#1e1e1e" stroke-width="0.3">Cumulative incidence</text><text x="334.8" y="204.5" font-size="5.6" text-anchor="end" textLength="18.5" lengthAdjust="spacingAndGlyphs" stroke="#1e1e1e" stroke-width="0.15">= 0.047</text><text x="311.7" y="204.5" font-size="5.6" font-style="italic" stroke="#1e1e1e" stroke-width="0.15">P</text><text x="270.8" y="212.1" font-size="5.6" textLength="10.9" lengthAdjust="spacingAndGlyphs" stroke="#1e1e1e" stroke-width="0.15">BMT</text><text x="334.8" y="212.1" font-size="5.6" text-anchor="end" textLength="42.5" lengthAdjust="spacingAndGlyphs" stroke="#1e1e1e" stroke-width="0.15">11.6% (0.06-0.17)</text><text x="270.8" y="220" font-size="5.6" textLength="17.6" lengthAdjust="spacingAndGlyphs" stroke="#1e1e1e" stroke-width="0.15">PBSCT</text><text x="334.8" y="220" font-size="5.6" text-anchor="end" textLength="42.80000000000001" lengthAdjust="spacingAndGlyphs" stroke="#1e1e1e" stroke-width="0.15">16.6% (0.06-0.28)</text><text x="270.8" y="227.7" font-size="5.6" textLength="9.7" lengthAdjust="spacingAndGlyphs" stroke="#1e1e1e" stroke-width="0.15">CBT</text><text x="334.8" y="227.7" font-size="5.6" text-anchor="end" textLength="39.69999999999999" lengthAdjust="spacingAndGlyphs" stroke="#1e1e1e" stroke-width="0.15">5.2% (0.02-0.09)</text><path d="M213.75 290.5H222.5V289.51H227.5V288.02L230 286.29H233.75V284.31H237.5V282.58H241.25V281.34H245V280.6H251.25V280.1H256.25V278.87H331.25" fill="none" stroke="#2d4b8e" stroke-width="1.3" stroke-linejoin="round"/><line x1="232.5" y1="284.69" x2="232.5" y2="287.89000000000004" stroke="#2d4b8e" stroke-width="0.95"/><line x1="262.5" y1="277.27" x2="262.5" y2="280.47" stroke="#2d4b8e" stroke-width="0.95"/><line x1="283.5" y1="277.27" x2="283.5" y2="280.47" stroke="#2d4b8e" stroke-width="0.95"/><line x1="286.5" y1="277.27" x2="286.5" y2="280.47" stroke="#2d4b8e" stroke-width="0.95"/><line x1="289.5" y1="277.27" x2="289.5" y2="280.47" stroke="#2d4b8e" stroke-width="0.95"/><line x1="292.5" y1="277.27" x2="292.5" y2="280.47" stroke="#2d4b8e" stroke-width="0.95"/><line x1="306.5" y1="277.27" x2="306.5" y2="280.47" stroke="#2d4b8e" stroke-width="0.95"/><line x1="318.5" y1="277.27" x2="318.5" y2="280.47" stroke="#2d4b8e" stroke-width="0.95"/><path d="M213.75 290.5H221.25V289.26H228.75V288.02H232.5V285.05L235 283.32H238.75V282.58H245V280.6L247.5 279.61H252.5V277.13L254.5 276.39H331.25" fill="none" stroke="#b3173f" stroke-width="1.3" stroke-linejoin="round"/><line x1="268.5" y1="274.78999999999996" x2="268.5" y2="277.99" stroke="#b3173f" stroke-width="0.95"/><line x1="282.5" y1="274.78999999999996" x2="282.5" y2="277.99" stroke="#b3173f" stroke-width="0.95"/><line x1="284.5" y1="274.78999999999996" x2="284.5" y2="277.99" stroke="#b3173f" stroke-width="0.95"/><line x1="287.5" y1="274.78999999999996" x2="287.5" y2="277.99" stroke="#b3173f" stroke-width="0.95"/><line x1="289.5" y1="274.78999999999996" x2="289.5" y2="277.99" stroke="#b3173f" stroke-width="0.95"/><line x1="291.5" y1="274.78999999999996" x2="291.5" y2="277.99" stroke="#b3173f" stroke-width="0.95"/><line x1="294.5" y1="274.78999999999996" x2="294.5" y2="277.99" stroke="#b3173f" stroke-width="0.95"/><line x1="296.5" y1="274.78999999999996" x2="296.5" y2="277.99" stroke="#b3173f" stroke-width="0.95"/><line x1="300.5" y1="274.78999999999996" x2="300.5" y2="277.99" stroke="#b3173f" stroke-width="0.95"/><line x1="317.5" y1="274.78999999999996" x2="317.5" y2="277.99" stroke="#b3173f" stroke-width="0.95"/><path d="M213.75 290.5H227.5V289.51H232.5V288.02L235 286.79H240V285.8H275V284.81H331.25" fill="none" stroke="#e39a22" stroke-width="1.3" stroke-linejoin="round"/><line x1="262.5" y1="284.2" x2="262.5" y2="287.40000000000003" stroke="#e39a22" stroke-width="0.95"/><line x1="275.5" y1="283.21" x2="275.5" y2="286.41" stroke="#e39a22" stroke-width="0.95"/><line x1="282.5" y1="283.21" x2="282.5" y2="286.41" stroke="#e39a22" stroke-width="0.95"/><line x1="285.5" y1="283.21" x2="285.5" y2="286.41" stroke="#e39a22" stroke-width="0.95"/><line x1="287.5" y1="283.21" x2="287.5" y2="286.41" stroke="#e39a22" stroke-width="0.95"/><line x1="288.5" y1="283.21" x2="288.5" y2="286.41" stroke="#e39a22" stroke-width="0.95"/><line x1="292.5" y1="283.21" x2="292.5" y2="286.41" stroke="#e39a22" stroke-width="0.95"/><line x1="294.5" y1="283.21" x2="294.5" y2="286.41" stroke="#e39a22" stroke-width="0.95"/><line x1="300.5" y1="283.21" x2="300.5" y2="286.41" stroke="#e39a22" stroke-width="0.95"/><line x1="303.5" y1="283.21" x2="303.5" y2="286.41" stroke="#e39a22" stroke-width="0.95"/><line x1="305.5" y1="283.21" x2="305.5" y2="286.41" stroke="#e39a22" stroke-width="0.95"/><line x1="316.5" y1="283.21" x2="316.5" y2="286.41" stroke="#e39a22" stroke-width="0.95"/><text x="352.3" y="180.5" font-size="12" font-weight="bold" fill="#000" stroke="#000" stroke-width="0.35">F</text><text x="435.6" y="181.5" font-size="8.5" text-anchor="middle" textLength="55.7" lengthAdjust="spacingAndGlyphs" stroke="#1e1e1e" stroke-width="0.22">Chronic GVHD</text><line x1="380.7" y1="187.2" x2="380.7" y2="296.20000000000005" stroke="#1a1a1a" stroke-width="1.45"/><line x1="380.6" y1="295.6" x2="490.7" y2="295.6" stroke="#1a1a1a" stroke-width="1.3"/><line x1="377.5" y1="191.6" x2="380.7" y2="191.6" stroke="#1a1a1a" stroke-width="1.2"/><text x="374.8" y="193.9" font-size="6.5" text-anchor="end" stroke="#1e1e1e" stroke-width="0.15">1.0</text><line x1="377.5" y1="211.57999999999998" x2="380.7" y2="211.57999999999998" stroke="#1a1a1a" stroke-width="1.2"/><text x="374.8" y="213.88" font-size="6.5" text-anchor="end" stroke="#1e1e1e" stroke-width="0.15">0.8</text><line x1="377.5" y1="231.56" x2="380.7" y2="231.56" stroke="#1a1a1a" stroke-width="1.2"/><text x="374.8" y="233.86" font-size="6.5" text-anchor="end" stroke="#1e1e1e" stroke-width="0.15">0.6</text><line x1="377.5" y1="251.54000000000002" x2="380.7" y2="251.54000000000002" stroke="#1a1a1a" stroke-width="1.2"/><text x="374.8" y="253.84" font-size="6.5" text-anchor="end" stroke="#1e1e1e" stroke-width="0.15">0.4</text><line x1="377.5" y1="271.52" x2="380.7" y2="271.52" stroke="#1a1a1a" stroke-width="1.2"/><text x="374.8" y="273.82" font-size="6.5" text-anchor="end" stroke="#1e1e1e" stroke-width="0.15">0.2</text><line x1="377.5" y1="291.5" x2="380.7" y2="291.5" stroke="#1a1a1a" stroke-width="1.2"/><text x="374.8" y="293.8" font-size="6.5" text-anchor="end" stroke="#1e1e1e" stroke-width="0.15">0.0</text><line x1="384.8" y1="295.6" x2="384.8" y2="298.90000000000003" stroke="#1a1a1a" stroke-width="1.3"/><text x="384.8" y="307.59999999999997" font-size="6.5" text-anchor="middle" stroke="#1e1e1e" stroke-width="0.15">0</text><line x1="403.48" y1="295.6" x2="403.48" y2="298.90000000000003" stroke="#1a1a1a" stroke-width="1.3"/><text x="403.48" y="307.59999999999997" font-size="6.5" text-anchor="middle" stroke="#1e1e1e" stroke-width="0.15">200</text><line x1="422.16" y1="295.6" x2="422.16" y2="298.90000000000003" stroke="#1a1a1a" stroke-width="1.3"/><text x="422.16" y="307.59999999999997" font-size="6.5" text-anchor="middle" stroke="#1e1e1e" stroke-width="0.15">400</text><line x1="440.84000000000003" y1="295.6" x2="440.84000000000003" y2="298.90000000000003" stroke="#1a1a1a" stroke-width="1.3"/><text x="440.84" y="307.59999999999997" font-size="6.5" text-anchor="middle" stroke="#1e1e1e" stroke-width="0.15">600</text><line x1="459.52" y1="295.6" x2="459.52" y2="298.90000000000003" stroke="#1a1a1a" stroke-width="1.3"/><text x="459.52" y="307.59999999999997" font-size="6.5" text-anchor="middle" stroke="#1e1e1e" stroke-width="0.15">800</text><line x1="478.20000000000005" y1="295.6" x2="478.20000000000005" y2="298.90000000000003" stroke="#1a1a1a" stroke-width="1.3"/><text x="478.2" y="307.59999999999997" font-size="6.5" text-anchor="middle" stroke="#1e1e1e" stroke-width="0.15">1000</text><text x="489.2" y="307.59999999999997" font-size="6.5" stroke="#1e1e1e" stroke-width="0.15">days</text><text x="359.8" y="241" font-size="7.4" text-anchor="middle" textLength="55.2" lengthAdjust="spacingAndGlyphs" transform="rotate(-90 359.8 241)" stroke="#1e1e1e" stroke-width="0.3">Cumulative incidence</text><text x="504.8" y="205.1" font-size="5.6" text-anchor="end" textLength="18.5" lengthAdjust="spacingAndGlyphs" stroke="#1e1e1e" stroke-width="0.15">= 0.025</text><text x="481.7" y="205.1" font-size="5.6" font-style="italic" stroke="#1e1e1e" stroke-width="0.15">P</text><text x="440.2" y="212.8" font-size="5.6" textLength="11" lengthAdjust="spacingAndGlyphs" stroke="#1e1e1e" stroke-width="0.15">BMT</text><text x="504.8" y="212.8" font-size="5.6" text-anchor="end" textLength="42.80000000000001" lengthAdjust="spacingAndGlyphs" stroke="#1e1e1e" stroke-width="0.15">43.1% (0.31-0.53)</text><text x="440.2" y="220.6" font-size="5.6" textLength="17.5" lengthAdjust="spacingAndGlyphs" stroke="#1e1e1e" stroke-width="0.15">PBSCT</text><text x="504.8" y="220.6" font-size="5.6" text-anchor="end" textLength="45.900000000000034" lengthAdjust="spacingAndGlyphs" stroke="#1e1e1e" stroke-width="0.15">44.5% (0.26-0.58)</text><text x="440.2" y="228.3" font-size="5.6" textLength="10.3" lengthAdjust="spacingAndGlyphs" stroke="#1e1e1e" stroke-width="0.15">CBT</text><text x="504.8" y="228.3" font-size="5.6" text-anchor="end" textLength="41.80000000000001" lengthAdjust="spacingAndGlyphs" stroke="#1e1e1e" stroke-width="0.15">27.5% (0.17-0.37)</text><path d="M385 291.5L386.25 292.25H392V286.53H394.5V277.83H396.25V271.62H398.75V265.41L401.25 261.68L403.75 257.95H412.5V256.71L415 254.97H420V253.48H423.75V252.48H432.5V250.99H440V249.25H502" fill="none" stroke="#2d4b8e" stroke-width="1.3" stroke-linejoin="round"/><line x1="398.5" y1="270.02" x2="398.5" y2="273.22" stroke="#2d4b8e" stroke-width="0.95"/><line x1="402.5" y1="260.08" x2="402.5" y2="263.28000000000003" stroke="#2d4b8e" stroke-width="0.95"/><line x1="406.5" y1="256.34999999999997" x2="406.5" y2="259.55" stroke="#2d4b8e" stroke-width="0.95"/><line x1="410.5" y1="256.34999999999997" x2="410.5" y2="259.55" stroke="#2d4b8e" stroke-width="0.95"/><line x1="418.5" y1="253.37" x2="418.5" y2="256.57" stroke="#2d4b8e" stroke-width="0.95"/><line x1="425.5" y1="250.88" x2="425.5" y2="254.07999999999998" stroke="#2d4b8e" stroke-width="0.95"/><line x1="436.5" y1="249.39000000000001" x2="436.5" y2="252.59" stroke="#2d4b8e" stroke-width="0.95"/><line x1="441.5" y1="247.65" x2="441.5" y2="250.85" stroke="#2d4b8e" stroke-width="0.95"/><line x1="451.5" y1="247.65" x2="451.5" y2="250.85" stroke="#2d4b8e" stroke-width="0.95"/><line x1="457.5" y1="247.65" x2="457.5" y2="250.85" stroke="#2d4b8e" stroke-width="0.95"/><line x1="463.5" y1="247.65" x2="463.5" y2="250.85" stroke="#2d4b8e" stroke-width="0.95"/><line x1="469.5" y1="247.65" x2="469.5" y2="250.85" stroke="#2d4b8e" stroke-width="0.95"/><line x1="474.5" y1="247.65" x2="474.5" y2="250.85" stroke="#2d4b8e" stroke-width="0.95"/><line x1="480.5" y1="247.65" x2="480.5" y2="250.85" stroke="#2d4b8e" stroke-width="0.95"/><line x1="485.5" y1="247.65" x2="485.5" y2="250.85" stroke="#2d4b8e" stroke-width="0.95"/><line x1="492.5" y1="247.65" x2="492.5" y2="250.85" stroke="#2d4b8e" stroke-width="0.95"/><line x1="500.5" y1="247.65" x2="500.5" y2="250.85" stroke="#2d4b8e" stroke-width="0.95"/><path d="M385 291.5H391.25V291.25H393.75V281.56H395.5V272.86H398V265.41L400 261.68H403.75V258.45H412.5V255.96H415V248.51H440V245.03H474.5V237.57H502" fill="none" stroke="#b3173f" stroke-width="1.3" stroke-linejoin="round"/><line x1="404.5" y1="256.84999999999997" x2="404.5" y2="260.05" stroke="#b3173f" stroke-width="0.95"/><line x1="410.5" y1="256.84999999999997" x2="410.5" y2="260.05" stroke="#b3173f" stroke-width="0.95"/><line x1="420.5" y1="246.91" x2="420.5" y2="250.10999999999999" stroke="#b3173f" stroke-width="0.95"/><line x1="427.5" y1="246.91" x2="427.5" y2="250.10999999999999" stroke="#b3173f" stroke-width="0.95"/><line x1="431.5" y1="246.91" x2="431.5" y2="250.10999999999999" stroke="#b3173f" stroke-width="0.95"/><line x1="439.5" y1="246.91" x2="439.5" y2="250.10999999999999" stroke="#b3173f" stroke-width="0.95"/><line x1="451.5" y1="243.43" x2="451.5" y2="246.63" stroke="#b3173f" stroke-width="0.95"/><line x1="477.5" y1="235.97" x2="477.5" y2="239.17" stroke="#b3173f" stroke-width="0.95"/><line x1="481.5" y1="235.97" x2="481.5" y2="239.17" stroke="#b3173f" stroke-width="0.95"/><line x1="486.5" y1="235.97" x2="486.5" y2="239.17" stroke="#b3173f" stroke-width="0.95"/><line x1="500.5" y1="235.97" x2="500.5" y2="239.17" stroke="#b3173f" stroke-width="0.95"/><path d="M385 291.5H392.5V289.01H393.75V284.04H395.5V279.07L397.5 275.35L400 272.86H403.75V271.62H407.5V269.88H411.25V267.89H415V267.15H420V266.65H450V264.16H502" fill="none" stroke="#e39a22" stroke-width="1.3" stroke-linejoin="round"/><line x1="401.5" y1="271.26" x2="401.5" y2="274.46000000000004" stroke="#e39a22" stroke-width="0.95"/><line x1="405.5" y1="270.02" x2="405.5" y2="273.22" stroke="#e39a22" stroke-width="0.95"/><line x1="409.5" y1="268.28" x2="409.5" y2="271.48" stroke="#e39a22" stroke-width="0.95"/><line x1="413.5" y1="266.28999999999996" x2="413.5" y2="269.49" stroke="#e39a22" stroke-width="0.95"/><line x1="417.5" y1="265.54999999999995" x2="417.5" y2="268.75" stroke="#e39a22" stroke-width="0.95"/><line x1="426.5" y1="265.04999999999995" x2="426.5" y2="268.25" stroke="#e39a22" stroke-width="0.95"/><line x1="431.5" y1="265.04999999999995" x2="431.5" y2="268.25" stroke="#e39a22" stroke-width="0.95"/><line x1="436.5" y1="265.04999999999995" x2="436.5" y2="268.25" stroke="#e39a22" stroke-width="0.95"/><line x1="446.5" y1="265.04999999999995" x2="446.5" y2="268.25" stroke="#e39a22" stroke-width="0.95"/><line x1="455.5" y1="262.56" x2="455.5" y2="265.76000000000005" stroke="#e39a22" stroke-width="0.95"/><line x1="460.5" y1="262.56" x2="460.5" y2="265.76000000000005" stroke="#e39a22" stroke-width="0.95"/><line x1="465.5" y1="262.56" x2="465.5" y2="265.76000000000005" stroke="#e39a22" stroke-width="0.95"/><line x1="474.5" y1="262.56" x2="474.5" y2="265.76000000000005" stroke="#e39a22" stroke-width="0.95"/><line x1="478.5" y1="262.56" x2="478.5" y2="265.76000000000005" stroke="#e39a22" stroke-width="0.95"/><line x1="484.5" y1="262.56" x2="484.5" y2="265.76000000000005" stroke="#e39a22" stroke-width="0.95"/><line x1="490.5" y1="262.56" x2="490.5" y2="265.76000000000005" stroke="#e39a22" stroke-width="0.95"/><line x1="494.5" y1="262.56" x2="494.5" y2="265.76000000000005" stroke="#e39a22" stroke-width="0.95"/><line x1="498.5" y1="262.56" x2="498.5" y2="265.76000000000005" stroke="#e39a22" stroke-width="0.95"/><rect x="0" y="0" width="520" height="1" fill="#000"/><rect x="0" y="0" width="1.1" height="328" fill="#000"/><rect x="518.5" y="0" width="1.5" height="328" fill="#000"/><rect x="0" y="326.2" width="520" height="1.8" fill="#000"/></svg></body></html>
